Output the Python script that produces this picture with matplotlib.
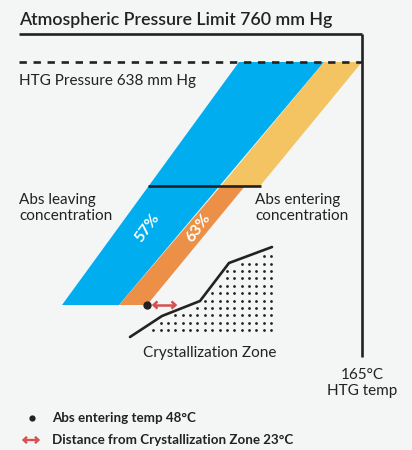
import numpy as np
import matplotlib
matplotlib.use("Agg")
import matplotlib.pyplot as plt
from matplotlib.patches import Polygon

plt.rcParams['font.family'] = ['Lato', 'DejaVu Sans']
plt.rcParams['lines.scale_dashes'] = False

# ---- data (schematic diagram units, y grows downward) ----
title_text = "Atmospheric Pressure Limit 760 mm Hg"
htg_pressure_text = "HTG Pressure 638 mm Hg"
htg_temp_text = "165°C\nHTG temp"
leaving_text = "Abs leaving\nconcentration"
entering_text = "Abs entering\nconcentration"
zone_text = "Crystallization Zone"
legend_labels = ["Abs entering temp 48°C", "Distance from Crystallization Zone 23°C"]
concentrations = [57, 63]

# band outlines
leaving_band_x = [239, 324, 119, 62]
leaving_band_y = [62, 62, 305, 305]
entering_upper_x = [324, 362, 260, 221]
entering_upper_y = [62, 62, 186, 186]
entering_lower_x = [221, 245, 147, 119]
entering_lower_y = [186, 186, 305, 305]

# crystallization curve
curve_x = [130, 162, 200, 229, 272]
curve_y = [337, 316, 301, 263, 247]

bg = '#f4f5f5'
blue = '#00aeef'
yellow = '#f5c462'
orange = '#eb9046'
red = '#d5504f'
ink = '#222222'

fig = plt.figure(figsize=(4.12, 4.50), dpi=100, facecolor=bg)
ax = fig.add_axes([0, 0, 1, 1])
ax.set_xlim(0, 412)
ax.set_ylim(450, 0)
ax.axis('off')
ax.set_facecolor(bg)


def double_arrow(x0, x1, y, lw=1.8, hl=4.5, hw=3.6):
    ax.plot([x0 + 0.8, x1 - 0.8], [y, y], color=red, lw=lw, solid_capstyle='butt')
    ax.plot([x0 + hl, x0 + 0.6, x0 + hl], [y - hw, y, y + hw], color=red, lw=lw,
            solid_joinstyle='miter', solid_capstyle='butt')
    ax.plot([x1 - hl, x1 - 0.6, x1 - hl], [y - hw, y, y + hw], color=red, lw=lw,
            solid_joinstyle='miter', solid_capstyle='butt')


# bands
ax.add_patch(Polygon(list(zip(leaving_band_x, leaving_band_y)), closed=True, fc=blue, ec='none'))
ax.add_patch(Polygon(list(zip(entering_upper_x, entering_upper_y)), closed=True, fc=yellow, ec='none'))
ax.add_patch(Polygon(list(zip(entering_lower_x, entering_lower_y)), closed=True, fc=orange, ec='none'))

# frame lines
ax.plot([19, 362], [34, 34], color=ink, lw=1.9, solid_capstyle='butt')
ax.plot([362, 362], [34, 357], color=ink, lw=1.9, solid_capstyle='butt')
ax.plot([19, 362], [61.5, 61.5], color=ink, lw=1.9, dashes=(5.3, 4.8))
ax.plot([148, 261], [186, 186], color=ink, lw=1.9, solid_capstyle='butt')

# concentration labels
ax.text(147, 228, f"{concentrations[0]}%", color='white', fontsize=11.5, fontweight='bold',
        rotation=54, ha='center', va='center', rotation_mode='anchor')
ax.text(198, 228, f"{concentrations[1]}%", color='white', fontsize=11.5, fontweight='bold',
        rotation=54, ha='center', va='center', rotation_mode='anchor')

# crystallization zone dots
sp = 7.35
gx = np.arange(0, 19) * -sp + 271
gy = np.arange(0, 13) * sp + 241.7
for xx in gx:
    cy = np.interp(xx, curve_x, curve_y)
    for yy in gy:
        if yy > cy + 4 and yy < 334 and xx > 134:
            ax.plot(xx, yy, 'o', ms=2.0, color=ink, mec='none')
ax.plot(curve_x, curve_y, color=ink, lw=1.9, solid_capstyle='round', solid_joinstyle='miter')

# entering temp dot and distance arrow
ax.plot(147, 305, 'o', ms=6, color=ink, mec='none')
double_arrow(153, 176, 305)

# texts
ax.text(19, 25, title_text, fontsize=12.8, fontweight='semibold', color=ink, ha='left', va='baseline')
ax.text(19, 85, htg_pressure_text, fontsize=11, color=ink, ha='left', va='baseline')
ax.text(19, 208, leaving_text, fontsize=11, color=ink, ha='left', va='center', linespacing=1.25)
ax.text(255, 208, entering_text, fontsize=11, color=ink, ha='left', va='center', linespacing=1.25)
ax.text(210, 353, zone_text, fontsize=11, color=ink, ha='center', va='center')
ax.text(362, 383, htg_temp_text, fontsize=11, color=ink, ha='center', va='center', linespacing=1.25)

# legend
ax.plot(32, 418, 'o', ms=4.5, color=ink, mec='none')
double_arrow(23, 39, 440, lw=1.7, hl=4.0, hw=3.2)
ax.text(52, 418, legend_labels[0], fontsize=9.6, fontweight='bold', color=ink, ha='left', va='center')
ax.text(52, 440, legend_labels[1], fontsize=9.6, fontweight='bold', color=ink, ha='left', va='center')

fig.savefig('out.png', dpi=100, facecolor=bg)
